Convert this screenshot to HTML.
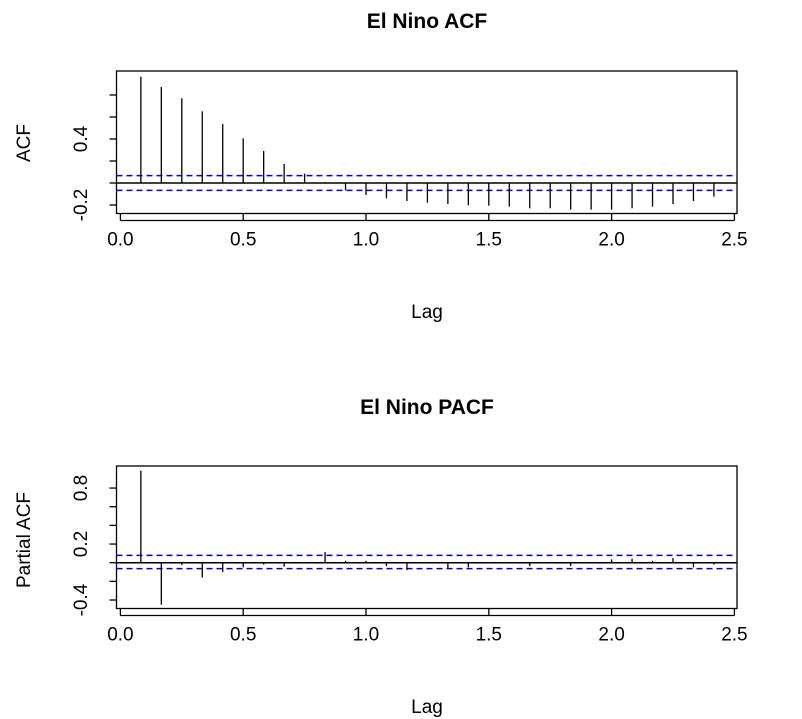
<!DOCTYPE html>
<html><head><meta charset="utf-8"><style>
body{margin:0;background:#fff}
svg{display:block;font-family:"Liberation Sans",Arial,sans-serif}
</style></head><body>
<svg id="c" width="802" height="719">
<text x="427" y="28" text-anchor="middle" font-size="21" font-weight="bold">El Nino ACF</text>
<text x="427" y="414" text-anchor="middle" font-size="21" font-weight="bold">El Nino PACF</text>
<text x="427" y="318" text-anchor="middle" font-size="19">Lag</text>
<text x="427" y="713" text-anchor="middle" font-size="19">Lag</text>
<text transform="translate(30,143) rotate(-90)" text-anchor="middle" font-size="19">ACF</text>
<text transform="translate(30,540) rotate(-90)" text-anchor="middle" font-size="19">Partial ACF</text>
</svg>
<script>
const acfValues=[0.967,0.873,0.770,0.652,0.536,0.406,0.291,0.173,0.085,0.008,-0.067,-0.109,-0.139,-0.164,-0.179,-0.191,-0.203,-0.206,-0.215,-0.230,-0.230,-0.242,-0.242,-0.242,-0.230,-0.215,-0.191,-0.164,-0.124];
const pacfValues=[0.986,-0.45,-0.025,-0.16,-0.10,-0.05,-0.02,-0.043,0.004,0.114,0.02,0.02,-0.036,-0.079,0.004,-0.057,-0.05,0.004,-0.004,-0.036,0.004,-0.036,0.004,0.036,0.043,0.02,0.05,-0.05,-0.02];
const acfCI=[0.067,-0.067];
const pacfCI=[0.078,-0.064];
const xTicks=[0,0.5,1,1.5,2,2.5];
const xTickLabels=["0.0","0.5","1.0","1.5","2.0","2.5"];
const acfYTicks=[-0.2,0,0.2,0.4,0.6,0.8];
const acfYLabels=["-0.2","","","0.4","",""];
const pacfYTicks=[-0.4,-0.2,0,0.2,0.4,0.6,0.8];
const pacfYLabels=["-0.4","","","0.2","","","0.8"];
const svg=document.getElementById('c');
const NS='http://www.w3.org/2000/svg';
function mk(t,a){const e=document.createElementNS(NS,t);for(const k in a)e.setAttribute(k,a[k]);svg.appendChild(e);return e;}
const X=v=>120.4+v*245.6;
function panel(p,vals,ci,yt,yl,top,bot,y0,ppu){
  const Y=v=>y0-v*ppu;
  const box=mk('rect',{x:116.5,y:top,width:620.5,height:bot-top,fill:'none',stroke:'#000','stroke-width':1.3});
  
  
  const z=mk('line',{x1:116.5,x2:737,y1:Y(0),y2:Y(0),stroke:'#000','stroke-width':1.5});
  
  
  ci.forEach((c,i)=>{const l=mk('line',{x1:116.5,x2:737,y1:Y(c),y2:Y(c),stroke:'#0000ee','stroke-width':1.5,'stroke-dasharray':'6,4'});
    
    });
  vals.forEach((v,i)=>{const x=X((i+1)/12);const l=mk('line',{x1:x,x2:x,y1:Y(0),y2:Y(v),stroke:'#000','stroke-width':1.3});
    
    });
  xTicks.forEach((t,i)=>{const x=X(t);const l=mk('line',{x1:x,x2:x,y1:bot,y2:bot+7,stroke:'#000','stroke-width':1.3});
    
    
    const tx=mk('text',{x:x,y:bot+32,'text-anchor':'middle','font-size':19});tx.textContent=xTickLabels[i];
    
    });
  const ax=mk('line',{x1:X(0),x2:X(2.5),y1:bot+7,y2:bot+7,stroke:'#000','stroke-width':1.3});
  
  
  yt.forEach((t,i)=>{const y=Y(t);const l=mk('line',{x1:109.5,x2:116.5,y1:y,y2:y,stroke:'#000','stroke-width':1.3});
    
    
    if(yl[i]){const tx=mk('text',{transform:`translate(87,${y}) rotate(-90)`,'text-anchor':'middle','font-size':19});tx.textContent=yl[i];
      
      }});
}
panel('acf',acfValues,acfCI,acfYTicks,acfYLabels,71,213.5,183,110);
panel('pacf',pacfValues,pacfCI,pacfYTicks,pacfYLabels,466,608.5,562.7,93.3);
</script>
</body></html>
